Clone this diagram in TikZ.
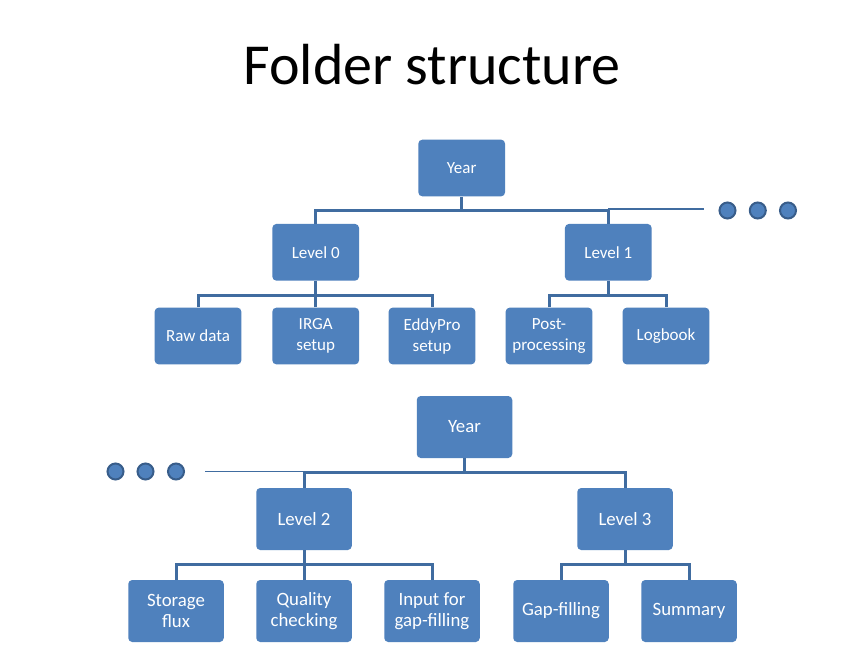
\documentclass[tikz,border=0pt]{standalone}
\usepackage{fontspec}
\setmainfont{Carlito}
\begin{document}
\begin{tikzpicture}[x=1pt,y=-1pt,
  boxA/.style={fill=boxblue, rounded corners=4pt, text=white, align=center,
    minimum width=86.7pt, minimum height=56.7pt, inner sep=1pt,
    font=\fontsize{17}{21}\selectfont},
  boxB/.style={fill=boxblue, rounded corners=4pt, text=white, align=center,
    minimum width=95.5pt, minimum height=62pt, inner sep=1pt,
    font=\fontsize{18.8}{21.5}\selectfont},
  conn/.style={draw=lineblue, line width=3pt},
  thinconn/.style={draw=lineblue, line width=1.8pt},
  dot/.style={circle, fill=boxblue, draw=dotedge, line width=2pt,
    minimum size=16pt, inner sep=0pt}]
\definecolor{boxblue}{RGB}{79,129,189}
\definecolor{lineblue}{RGB}{64,108,160}
\definecolor{dotedge}{RGB}{56,93,138}
\useasboundingbox (0,0) rectangle (864,661);
\fill[white] (0,0) rectangle (864,661);

\node[anchor=base, font=\fontsize{58}{60}\selectfont] (title) at (432,84) {Folder structure};

% ---------- top tree ----------
\node[boxA] (y1) at (461.7,168) {Year};
\node[boxA] (l0) at (315.7,252.3) {Level 0};
\node[boxA] (l1) at (608.3,252.3) {Level 1};
\node[boxA] (raw) at (198,336) {Raw data};
\node[boxA] (irga) at (315.7,336) {IRGA\\setup};
\node[boxA] (eddy) at (432,336) {EddyPro\\setup};
\node[boxA] (post) at (549,336) {Post-\\processing};
\node[boxA] (log) at (666,336) {Logbook};

\coordinate (bus1) at (0,210);
\coordinate (bus0) at (0,295);
\coordinate (bus1b) at (0,295);
\draw[conn] (y1.south) -- (y1.south |- bus1);
\draw[conn] (l0.north) |- (l1.north |- bus1) -- (l1.north);
\draw[conn] (l0.south) -- (l0.south |- bus0);
\draw[conn] (raw.north) |- (eddy.north |- bus0) -- (eddy.north);
\draw[conn] (irga.north) -- (irga.north |- bus0);
\draw[conn] (l1.south) -- (l1.south |- bus1b);
\draw[conn] (post.north) |- (log.north |- bus1b) -- (log.north);

\coordinate (ext1) at (704,209);
\draw[thinconn] (l1.north |- ext1) -- (ext1);
\node[dot] (da1) at (727.5,210.5) {};
\node[dot] (da2) at (757.8,210.5) {};
\node[dot] (da3) at (788,210.5) {};

% ---------- bottom tree ----------
\node[boxB] (y2) at (464.5,427) {Year};
\node[boxB] (l2) at (304,519) {Level 2};
\node[boxB] (l3) at (625,519) {Level 3};
\node[boxB] (stor) at (176,611) {Storage\\flux};
\node[boxB] (qual) at (304,611) {Quality\\checking};
\node[boxB] (inp) at (432,611) {Input for\\gap-filling};
\node[boxB] (gap) at (561,611) {Gap-filling};
\node[boxB] (summ) at (689,611) {Summary};

\coordinate (bus2) at (0,472.5);
\coordinate (bus22) at (0,564);
\draw[conn] (y2.south) -- (y2.south |- bus2);
\draw[conn] (l2.north) |- (l3.north |- bus2) -- (l3.north);
\draw[conn] (l2.south) -- (l2.south |- bus22);
\draw[conn] (stor.north) |- (inp.north |- bus22) -- (inp.north);
\draw[conn] (qual.north) -- (qual.north |- bus22);
\draw[conn] (l3.south) -- (l3.south |- bus22);
\draw[conn] (gap.north) |- (summ.north |- bus22) -- (summ.north);

\coordinate (ext2) at (205,471.5);
\draw[thinconn] (ext2) -- (l2.north |- ext2);
\node[dot] (db1) at (115.5,471.5) {};
\node[dot] (db2) at (145.5,471.5) {};
\node[dot] (db3) at (176,471.5) {};
\end{tikzpicture}
\end{document}
